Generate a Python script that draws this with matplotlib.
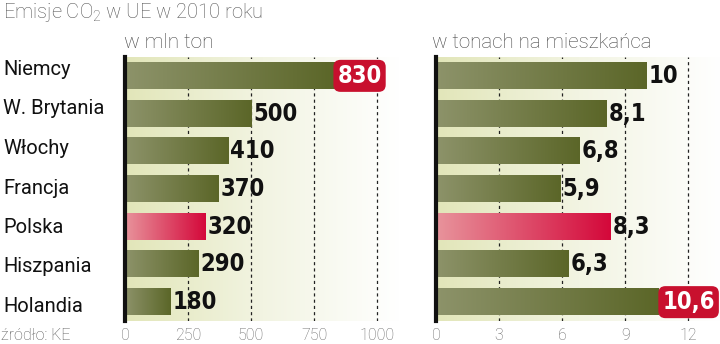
import numpy as np
import matplotlib
matplotlib.use('Agg')
import matplotlib.pyplot as plt
from matplotlib.colors import LinearSegmentedColormap

plt.rcParams['mathtext.fontset'] = 'custom'
plt.rcParams['mathtext.rm'] = 'Roboto:light'
plt.rcParams['mathtext.it'] = 'Roboto:light'

# dane
kraje = ['Niemcy', 'W. Brytania', 'Włochy', 'Francja', 'Polska', 'Hiszpania', 'Holandia']
mln_ton = [830, 500, 410, 370, 320, 290, 180]
na_osobe = [10, 8.1, 6.8, 5.9, 8.3, 6.3, 10.6]
etyk_mln = ['830', '500', '410', '370', '320', '290', '180']
etyk_osoba = ['10', '8,1', '6,8', '5,9', '8,3', '6,3', '10,6']
ticks_mln = [0, 250, 500, 750, 1000]
ticks_osoba = [0, 3, 6, 9, 12]

polska = 4
czerwony = '#c8102e'
cm_bar = LinearSegmentedColormap.from_list('b', ['#8d936a', '#5b6628'])
cm_red = LinearSegmentedColormap.from_list('r', ['#e8949c', '#d4083a'])
cm_tlo = LinearSegmentedColormap.from_list('t', ['#e2e6b9', '#f2f4e2', '#ffffff'])
grad = np.linspace(0, 1, 256).reshape(1, -1)

lekki = ['Roboto', 'DejaVu Sans']

fig = plt.figure(figsize=(7.2, 3.44), dpi=100)


def panel(ax, vals, labels, ticks, xmax, off, maks):
    n = len(vals)
    ax.imshow(grad, cmap=cm_tlo, aspect='auto', extent=(0, xmax, n - 0.5, -0.5), zorder=0)
    for t in ticks[1:]:
        ax.axvline(t, color='#222222', lw=0.9, ls=(0, (2.5, 2.5)), zorder=1)
    h = 0.69
    for i, v in enumerate(vals):
        cm = cm_red if i == polska else cm_bar
        ax.imshow(grad, cmap=cm, aspect='auto', extent=(0, v, i + h / 2, i - h / 2), zorder=2)
        if i == maks:
            ax.text(v + off * 1.6, i, labels[i], color='white', fontsize=17, fontweight='bold',
                    family='DejaVu Sans', stretch='condensed', va='center', ha='left', zorder=4,
                    bbox=dict(boxstyle='round,pad=0.17,rounding_size=0.3', fc=czerwony, ec='none'))
        else:
            ax.text(v + off, i, labels[i], color='#111111', fontsize=17, fontweight='bold',
                    family='DejaVu Sans', stretch='condensed', va='center', ha='left', zorder=4)
    ax.set_xlim(0, xmax)
    ax.set_ylim(n - 0.5, -0.5)
    ax.set_yticks([])
    ax.set_xticks(ticks)
    ax.set_xticklabels([str(t) for t in ticks], color='#666666', fontsize=11.5, family=lekki,
                       fontweight='light')
    ax.tick_params(axis='x', length=0, pad=5)
    for s in ['top', 'right', 'bottom']:
        ax.spines[s].set_visible(False)
    ax.spines['left'].set_linewidth(3)
    ax.spines['left'].set_color('#111111')
    ax.spines['left'].set_zorder(5)


ax1 = fig.add_axes([125 / 720, 23 / 344, 275 / 720, 264 / 344])
panel(ax1, mln_ton, etyk_mln, ticks_mln, 1091, 8, 0)
ax2 = fig.add_axes([436 / 720, 23 / 344, 284 / 720, 264 / 344])
panel(ax2, na_osobe, etyk_osoba, ticks_osoba, 13.5, 0.1, 6)

for i, k in enumerate(kraje):
    y = 1 - (75 + i * 39.5) / 344
    fig.text(3 / 720, y, k, fontsize=14.5, color='#111111', va='baseline', ha='left', family=lekki)

fig.text(3 / 720, 1 - 18.5 / 344, 'Emisje CO$_\\mathrm{2}$ w UE w 2010 roku', fontsize=14.5, color='#555555',
         va='baseline', ha='left', family=lekki, fontweight='light')
fig.text(124 / 720, 1 - 48 / 344, 'w mln ton', fontsize=15, color='#444444', va='baseline', ha='left',
         family=lekki, fontweight='light')
fig.text(432 / 720, 1 - 48 / 344, 'w tonach na mieszkańca', fontsize=14.8, color='#444444', va='baseline',
         ha='left', family=lekki, fontweight='light')
fig.text(1 / 720, 1 - 340 / 344, 'źródło: KE', fontsize=11.5, color='#555555', va='baseline', ha='left',
         family=lekki, fontweight='light')

fig.savefig('out.png', dpi=100)
